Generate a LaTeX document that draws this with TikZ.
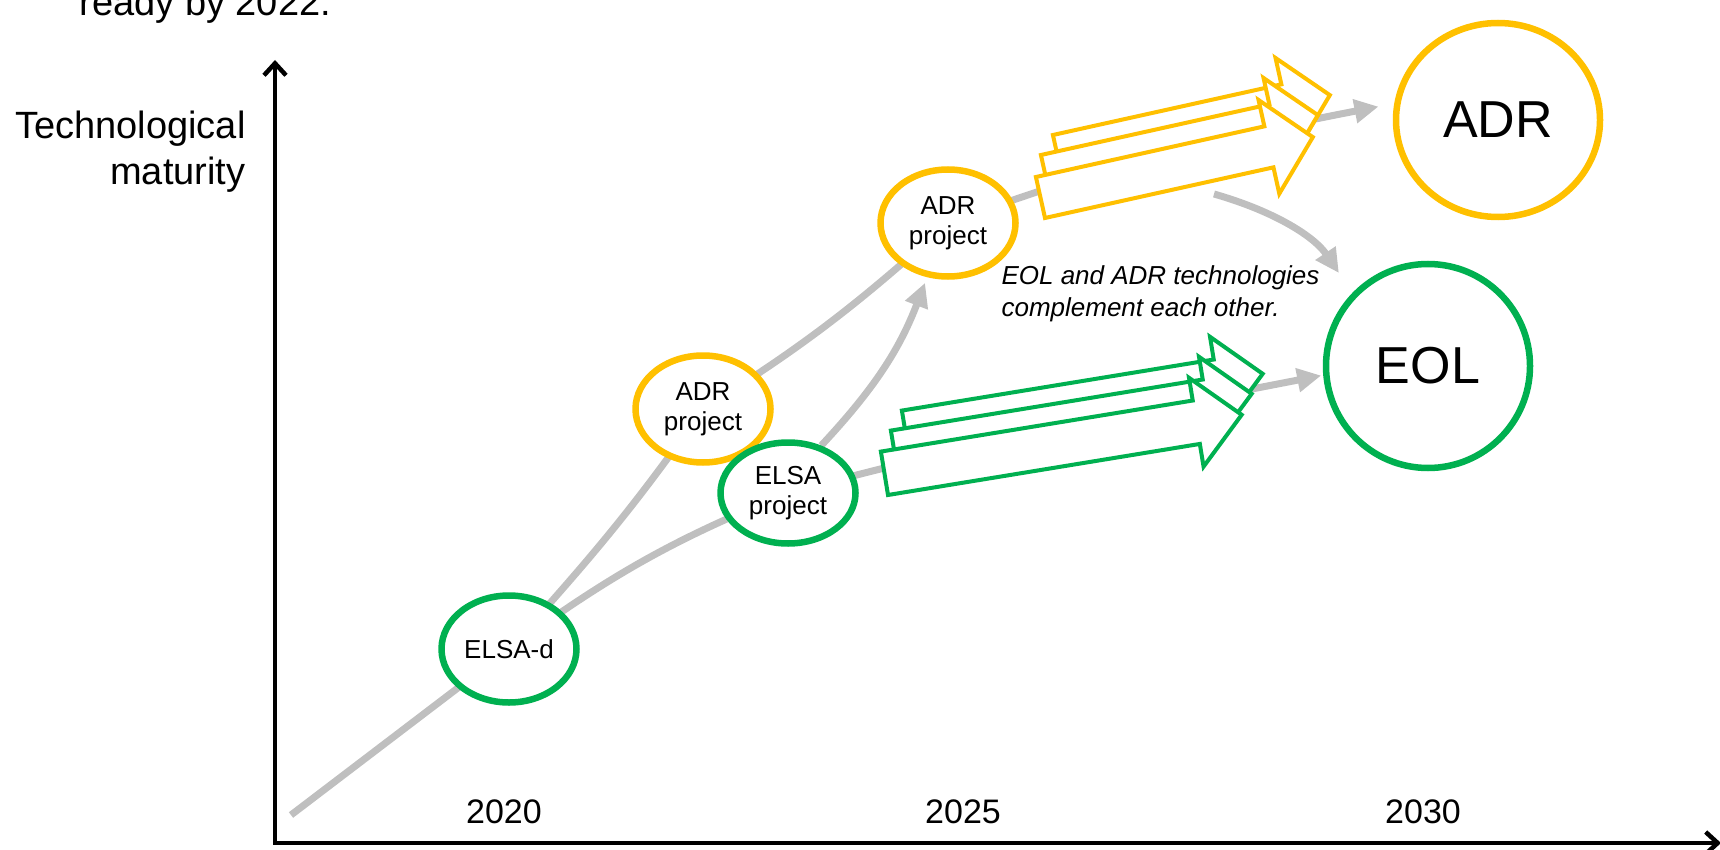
\documentclass[tikz,border=0pt]{standalone}
\usepackage{fontspec}
\setmainfont{Liberation Sans}
\usetikzlibrary{arrows.meta,shapes.geometric,calc}
\definecolor{adrY}{HTML}{FFC000}
\definecolor{elsaG}{HTML}{00B050}
\definecolor{trackG}{HTML}{BFBFBF}
\pgfdeclarelayer{bg}
\pgfsetlayers{bg,main}
\tikzset{
  blockY/.style={draw=adrY, line width=4pt, fill=white},
  blockG/.style={draw=elsaG, line width=4pt, fill=white},
  yarrow/.pic={\draw[blockY] (0,0) -- (234,0) -- (234,27) -- (279,-21) -- (234,-69) -- (234,-42) -- (0,-42) -- cycle;},
  garrow/.pic={\draw[blockG] (0,0) -- (316,0) -- (316,23) -- (362,-22) -- (316,-67) -- (316,-44) -- (0,-44) -- cycle;},
}
\begin{document}
\begin{tikzpicture}[x=1pt,y=-1pt,
  smallnode/.style={ellipse, draw, line width=6.5pt, fill=white, inner sep=0pt, minimum width=135pt, minimum height=107pt, align=center, font=\fontsize{26pt}{30pt}\selectfont},
  adrsmall/.style={smallnode, draw=adrY},
  elsasmall/.style={smallnode, draw=elsaG},
  bignode/.style={ellipse, draw, line width=6.5pt, fill=white, inner sep=0pt, minimum width=204pt, minimum height=204pt, font=\fontsize{52pt}{60pt}\selectfont},
  track/.style={draw=trackG, line width=7pt},
  tracktip/.style={track, -{Triangle[length=24pt,width=23pt]}},
  axisline/.style={line width=4.5pt, {Straight Barb[length=12pt,width=22pt]}-{Straight Barb[length=12pt,width=22pt]}},
  axislabel/.style={font=\fontsize{38pt}{46pt}\selectfont},
  yearlabel/.style={font=\fontsize{34pt}{40pt}\selectfont, anchor=base},
  note/.style={font=\itshape\fontsize{26pt}{32pt}\selectfont, align=left, anchor=base west},
]
\useasboundingbox (0,0) rectangle (1720,850);

% axes
\coordinate (origin) at (275,843);
\coordinate (ytop) at (275,60);
\coordinate (xend) at (1721,843);
\draw[axisline] (ytop) -- (origin) -- (xend);

% milestone nodes
\node[elsasmall] (elsad) at (509,649) {ELSA-d};
\node[adrsmall] (adr1) at (703,409) {ADR\\project};
\node[elsasmall, minimum height=101pt] (elsaproj) at (788,493) {ELSA\\project};
\node[adrsmall] (adr2) at (948,223) {ADR\\project};
\node[bignode, draw=adrY, minimum height=194pt] (adrbig) at (1498,120) {ADR};
\node[bignode, draw=elsaG] (eolbig) at (1428,366) {EOL};

% texts
\node[axislabel, anchor=base east, align=right] (ylabel) at (249,185) {Technological\\maturity};
\node[axislabel, anchor=base west] (ready) at (76,16) {ready by 2022.};
\node[yearlabel] (y2020) at (504,823) {2020};
\node[yearlabel] (y2025) at (963,823) {2025};
\node[yearlabel] (y2030) at (1423,823) {2030};
\node[note] (note) at (998,316) {EOL and ADR technologies\\complement each other.};

% block arrows
\pic[rotate=12.5] at (1062,176) {yarrow};
\pic[rotate=12.5] at (1050,196) {yarrow};
\pic[rotate=12.5] at (1045,218) {yarrow};
\pic[rotate=9.3] at (909,454) {garrow};
\pic[rotate=9.3] at (898,474) {garrow};
\pic[rotate=9.3] at (888,495) {garrow};

% grey tracks
\begin{pgfonlayer}{bg}
\coordinate (tstart) at (291,815);
\coordinate (dstart) at (1214,194);
\draw[tracktip, shorten >=16pt] (tstart) -- (elsad.center) to[out=48,in=235] (adr1.center) to[out=32,in=222] (adr2.center) to[out=20,in=191] (adrbig.171);
\draw[tracktip, shorten >=2pt] (elsad.center) to[out=36,in=202] (elsaproj.center) to[out=15,in=191] (eolbig.185);
\draw[tracktip, shorten >=6pt] (elsaproj.55) to[out=47,in=249] (adr2.249);
\draw[tracktip, shorten >=24pt] (dstart) to[out=-16,in=124] (eolbig.136);
\end{pgfonlayer}
\end{tikzpicture}
\end{document}
